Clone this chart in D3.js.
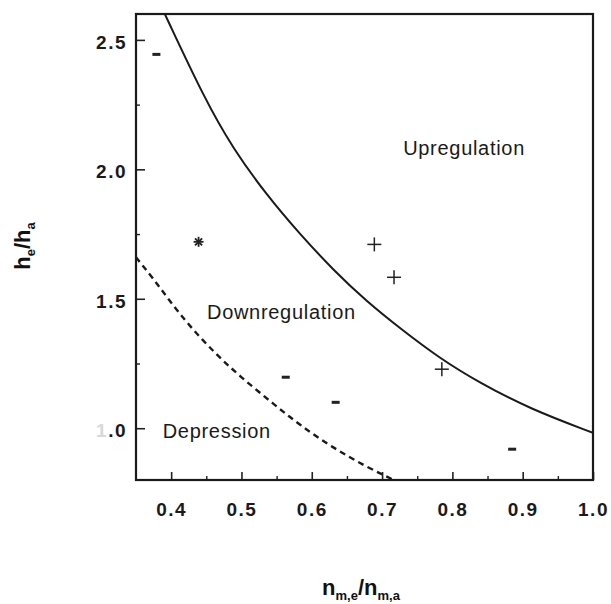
<!DOCTYPE html>
<html>
<head>
<meta charset="utf-8">
<script src="https://cdn.jsdelivr.net/npm/d3@7"></script>
<style>
  body { margin: 0; background: #fff; }
  svg { display: block; font-family: "Liberation Sans", Arial, Helvetica, sans-serif; }
</style>
</head>
<body>
<svg id="chart" width="611" height="604"></svg>
<script>
// ---- data ----
const xDomain = [0.35, 1.0];
const yDomain = [0.8, 2.6];
const xTickValues = [0.4, 0.5, 0.6, 0.7, 0.8, 0.9, 1.0];
const xMinorTicks = [0.45, 0.55, 0.65, 0.75, 0.85, 0.95];
const yTickValues = [1.0, 1.5, 2.0, 2.5];
const yMinorTicks = [1.25, 1.75, 2.25];

// solid boundary: upregulation / downregulation
const solidCurveX = [0.391, 0.448, 0.488, 0.536, 0.583, 0.631, 0.678, 0.726, 0.782, 0.839, 0.910, 1.0];
const solidCurveY = [2.600, 2.270, 2.080, 1.900, 1.750, 1.610, 1.490, 1.385, 1.270, 1.175, 1.075, 0.982];

// dashed boundary: downregulation / depression
const dashedCurveX = [0.350, 0.374, 0.397, 0.426, 0.464, 0.498, 0.545, 0.583, 0.630, 0.678, 0.721, 0.735];
const dashedCurveY = [1.660, 1.580, 1.495, 1.395, 1.285, 1.200, 1.095, 1.012, 0.925, 0.850, 0.795, 0.775];

// observations
const plusX = [0.689, 0.717, 0.785];
const plusY = [1.710, 1.583, 1.228];
const minusX = [0.379, 0.563, 0.634, 0.885];
const minusY = [2.444, 1.197, 1.100, 0.919];
const starX = [0.439];
const starY = [1.720];

const regionLabels = ["Upregulation", "Downregulation", "Depression"];
const regionLabelX = [0.730, 0.451, 0.388];
const regionLabelY = [2.055, 1.422, 0.962];

// ---- drawing ----
(function () {
const svg = d3.select("#chart");
const mLeft = 136, mRight = 593, mTop = 14, mBottom = 480;

const x = d3.scaleLinear().domain(xDomain).range([mLeft, mRight]);
const y = d3.scaleLinear().domain(yDomain).range([mBottom, mTop]);

svg.append("defs").append("clipPath").attr("id", "plotclip")
  .append("rect").attr("x", mLeft).attr("y", mTop)
  .attr("width", mRight - mLeft).attr("height", mBottom - mTop);

const tickFont = "19px";

// x axis major
const gx = svg.append("g").attr("transform", `translate(0,${mBottom})`)
  .call(d3.axisBottom(x).tickValues(xTickValues).tickFormat(d3.format(".1f"))
    .tickSizeInner(-8).tickSizeOuter(0).tickPadding(23));
gx.select(".domain").remove();
gx.selectAll(".tick line").attr("stroke", "#222").attr("stroke-width", 1.6);
gx.selectAll(".tick text").attr("font-size", tickFont).attr("fill", "#1a1a1a")
  .attr("font-weight", "bold").attr("letter-spacing", "1.5px");

// x axis minor
const gxm = svg.append("g").attr("transform", `translate(0,${mBottom})`)
  .call(d3.axisBottom(x).tickValues(xMinorTicks).tickFormat("").tickSizeInner(-4).tickSizeOuter(0));
gxm.select(".domain").remove();
gxm.selectAll(".tick line").attr("stroke", "#222").attr("stroke-width", 1.4);

// y axis major
const gy = svg.append("g").attr("transform", `translate(${mLeft},0)`)
  .call(d3.axisLeft(y).tickValues(yTickValues).tickFormat(d3.format(".1f"))
    .tickSizeInner(-9).tickSizeOuter(0).tickPadding(9));
gy.select(".domain").remove();
gy.selectAll(".tick line").attr("stroke", "#222").attr("stroke-width", 1.6);
gy.selectAll(".tick text").attr("font-size", tickFont).attr("fill", "#1a1a1a")
  .attr("font-weight", "bold").attr("letter-spacing", "1.5px").attr("dy", "0.45em");
// faded "1" on the 1.0 label as in the scan
gy.selectAll(".tick text").filter(d => d === 1.0).each(function () {
  const t = d3.select(this);
  const s = t.text();
  t.text(null);
  t.append("tspan").attr("fill", "#d8d8d8").text(s.slice(0, 1));
  t.append("tspan").text(s.slice(1));
});

// y axis minor
const gym = svg.append("g").attr("transform", `translate(${mLeft},0)`)
  .call(d3.axisLeft(y).tickValues(yMinorTicks).tickFormat("").tickSizeInner(-4).tickSizeOuter(0));
gym.select(".domain").remove();
gym.selectAll(".tick line").attr("stroke", "#222").attr("stroke-width", 1.4);

// frame
svg.append("rect").attr("x", mLeft).attr("y", mTop)
  .attr("width", mRight - mLeft).attr("height", mBottom - mTop)
  .attr("fill", "none").attr("stroke", "#1a1a1a").attr("stroke-width", 2.2);

const plot = svg.append("g").attr("clip-path", "url(#plotclip)");

const line = d3.line().x(d => x(d[0])).y(d => y(d[1])).curve(d3.curveBasis);

plot.append("path")
  .datum(solidCurveX.map((v, i) => [v, solidCurveY[i]]))
  .attr("d", line).attr("fill", "none").attr("stroke", "#1a1a1a").attr("stroke-width", 2);

plot.append("path")
  .datum(dashedCurveX.map((v, i) => [v, dashedCurveY[i]]))
  .attr("d", line).attr("fill", "none").attr("stroke", "#1a1a1a")
  .attr("stroke-width", 2.4).attr("stroke-dasharray", "6,4.5");

// markers
const plusG = plot.append("g").attr("stroke", "#222").attr("stroke-width", 1.5);
plusX.forEach((v, i) => {
  const cx = x(v), cy = y(plusY[i]);
  plusG.append("line").attr("x1", cx - 7).attr("x2", cx + 7).attr("y1", cy).attr("y2", cy);
  plusG.append("line").attr("x1", cx).attr("x2", cx).attr("y1", cy - 7).attr("y2", cy + 7);
});

const minusG = plot.append("g").attr("stroke", "#222").attr("stroke-width", 3);
minusX.forEach((v, i) => {
  const cx = x(v), cy = y(minusY[i]);
  minusG.append("line").attr("x1", cx - 4).attr("x2", cx + 4).attr("y1", cy).attr("y2", cy);
});

const starG = plot.append("g").attr("stroke", "#222").attr("stroke-width", 1.8);
starX.forEach((v, i) => {
  const cx = x(v), cy = y(starY[i]);
  [0, 45, 90, 135].forEach(a => {
    const r = 5, rad = a * Math.PI / 180;
    starG.append("line")
      .attr("x1", cx - r * Math.cos(rad)).attr("y1", cy - r * Math.sin(rad))
      .attr("x2", cx + r * Math.cos(rad)).attr("y2", cy + r * Math.sin(rad));
  });
});

// region labels
regionLabels.forEach((t, i) => {
  svg.append("text").attr("x", x(regionLabelX[i])).attr("y", y(regionLabelY[i]))
    .attr("font-size", "20px").attr("letter-spacing", "0.7px").attr("fill", "#1a1a1a")
    .text(t);
});

// axis titles
const xt = svg.append("text").attr("x", 361).attr("y", 595)
  .attr("text-anchor", "middle").attr("font-size", "22px").attr("font-weight", "bold").attr("fill", "#111");
xt.append("tspan").text("n");
xt.append("tspan").attr("font-size", "13px").attr("dy", "5").text("m,e");
xt.append("tspan").attr("dy", "-5").text("/n");
xt.append("tspan").attr("font-size", "13px").attr("dy", "5").text("m,a");

const yt = svg.append("text").attr("transform", "translate(30,246) rotate(-90)")
  .attr("text-anchor", "middle").attr("font-size", "22px").attr("font-weight", "bold").attr("fill", "#111");
yt.append("tspan").text("h");
yt.append("tspan").attr("font-size", "13px").attr("dy", "5").text("e");
yt.append("tspan").attr("dy", "-5").text("/h");
yt.append("tspan").attr("font-size", "13px").attr("dy", "5").text("a");
})();
</script>
</body>
</html>
